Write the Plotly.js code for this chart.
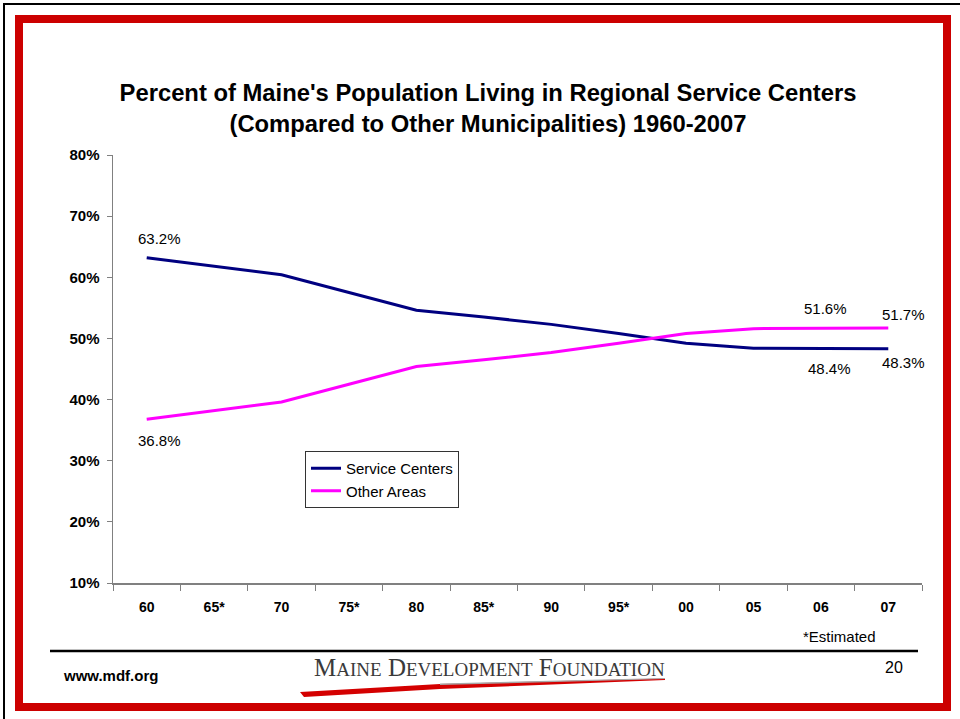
<!DOCTYPE html>
<html>
<head>
<meta charset="utf-8">
<script src="https://cdn.plot.ly/plotly-3.0.1.min.js"></script>
<style>html,body{margin:0;padding:0;background:#fff;}#chart{width:960px;height:719px;}</style>
</head>
<body>
<div id="chart"></div>
<script>
// ---- data ----
const years = ["60", "65*", "70", "75*", "80", "85*", "90", "95*", "00", "05", "06", "07"];
const serviceCenters = [63.2, 61.8, 60.4, 57.5, 54.6, 53.5, 52.3, 50.8, 49.2, 48.4, 48.4, 48.3];
const otherAreas = [36.8, 38.2, 39.6, 42.5, 45.4, 46.5, 47.7, 49.2, 50.8, 51.6, 51.6, 51.7];
const yTicks = [10, 20, 30, 40, 50, 60, 70, 80];

// labelled points: [series values, index, xshift, yshift]
const labelSpecs = [
  [serviceCenters, 0, 13, 19],
  [otherAreas, 0, 13, -21],
  [otherAreas, 10, 5, 20],
  [otherAreas, 11, 15, 14],
  [serviceCenters, 10, 9, -20],
  [serviceCenters, 11, 15, -14]
];

// ---- layout geometry helpers (pixels -> paper) ----
const W = 960, H = 719, L = 113, T = 155, R = 922, B = 583;
const PW = R - L, PH = B - T;
const px = X => (X - L) / PW;
const py = Y => 1 - (Y - T) / PH;

const font = "Liberation Sans, Arial, sans-serif";

const traces = [
  {x: years, y: serviceCenters, name: "Service Centers", type: "scatter", mode: "lines",
   line: {color: "#000080", width: 3}},
  {x: years, y: otherAreas, name: "Other Areas", type: "scatter", mode: "lines",
   line: {color: "#FF00FF", width: 3}}
];

// category axes take the category index for annotations
const annotations = labelSpecs.map(([arr, i, dx, dy]) => ({
  x: i, y: arr[i], xref: "x", yref: "y",
  text: arr[i].toFixed(1) + "%", showarrow: false,
  xshift: dx, yshift: dy,
  font: {family: font, size: 15, color: "#000"}
}));

annotations.push(
  {xref: "paper", yref: "paper", x: px(878), y: py(636), xanchor: "right", yanchor: "middle",
   text: "*Estimated", showarrow: false, font: {family: font, size: 15, color: "#000"}},
  {xref: "paper", yref: "paper", x: px(61), y: py(675), xanchor: "left", yanchor: "middle",
   text: "<b>www.mdf.org</b>", showarrow: false, font: {family: font, size: 15, color: "#000"}},
  {xref: "paper", yref: "paper", x: px(905), y: py(667), xanchor: "right", yanchor: "middle",
   text: "20", showarrow: false, font: {family: font, size: 16, color: "#000"}},
  {xref: "paper", yref: "paper", x: px(489), y: py(667), xanchor: "center", yanchor: "middle",
   text: "M<span style='font-size:19px'>AINE</span> D<span style='font-size:19px'>EVELOPMENT</span> F<span style='font-size:19px'>OUNDATION</span>",
   showarrow: false, font: {family: "Liberation Serif, Times New Roman, serif", size: 25, color: "#3a3a3a"}}
);

const shapes = [
  // outer black edges
  {type: "line", xref: "paper", yref: "paper", x0: px(3), x1: px(960), y0: py(4), y1: py(4),
   line: {color: "#000", width: 2}},
  {type: "line", xref: "paper", yref: "paper", x0: px(4), x1: px(4), y0: py(3), y1: py(719),
   line: {color: "#000", width: 2}},
  // red frame
  {type: "rect", xref: "paper", yref: "paper", x0: px(19), x1: px(947), y0: py(19), y1: py(707),
   line: {color: "#CC0000", width: 8}},
  // footer rule
  {type: "line", xref: "paper", yref: "paper", x0: px(50), x1: px(918), y0: py(651), y1: py(651),
   line: {color: "#000", width: 2.5}},
  // logo swoosh
  {type: "path", xref: "paper", yref: "paper",
   path: `M ${px(300)} ${py(692)} L ${px(440)} ${py(684)} L ${px(665)} ${py(678.5)} L ${px(665)} ${py(680)} L ${px(440)} ${py(689)} L ${px(304)} ${py(697)} Z`,
   fillcolor: "#D40000", line: {width: 0}},
  {type: "path", xref: "paper", yref: "paper",
   path: `M ${px(440)} ${py(683.5)} L ${px(665)} ${py(678)} L ${px(665)} ${py(679)} L ${px(440)} ${py(685)} Z`,
   fillcolor: "#A8A8A8", line: {width: 0}}
];

const layout = {
  width: W, height: H,
  margin: {l: L, r: W - R, t: T, b: H - B, pad: 0},
  paper_bgcolor: "#fff", plot_bgcolor: "#fff",
  title: {
    text: "<b>Percent of Maine's Population Living in Regional Service Centers<br>(Compared to Other Municipalities) 1960-2007</b>",
    font: {family: font, size: 23.8, color: "#000"},
    x: 488 / W, xref: "container", xanchor: "center",
    y: 1 - 101 / H, yref: "container", yanchor: "middle"
  },
  showlegend: true,
  legend: {
    x: px(305), y: py(451), xanchor: "left", yanchor: "top",
    bordercolor: "#333", borderwidth: 1, bgcolor: "#fff",
    font: {family: font, size: 15, color: "#000"},
    itemwidth: 30, tracegroupgap: 0
  },
  xaxis: {
    type: "category", categoryorder: "array", categoryarray: years,
    range: [-0.5, years.length - 0.5],
    showline: true, linecolor: "#808080", linewidth: 1.5,
    ticks: "outside", tickson: "boundaries", ticklen: 6, tickcolor: "#808080", tickwidth: 1,
    showgrid: false, zeroline: false,
    tickfont: {family: font, size: 14, color: "#000", weight: "bold"},
    ticklabelstandoff: 11, fixedrange: true
  },
  yaxis: {
    range: [10, 80], tickvals: yTicks, ticktext: yTicks.map(v => "<b>" + v + "%</b>"),
    showline: true, linecolor: "#808080", linewidth: 1.5,
    ticks: "outside", ticklen: 5, tickcolor: "#808080", tickwidth: 1,
    showgrid: false, zeroline: false,
    tickfont: {family: font, size: 15, color: "#000"},
    ticklabelstandoff: 4, fixedrange: true
  },
  annotations: annotations,
  shapes: shapes
};

Plotly.newPlot("chart", traces, layout, {displayModeBar: false, staticPlot: true});
</script>
</body>
</html>
